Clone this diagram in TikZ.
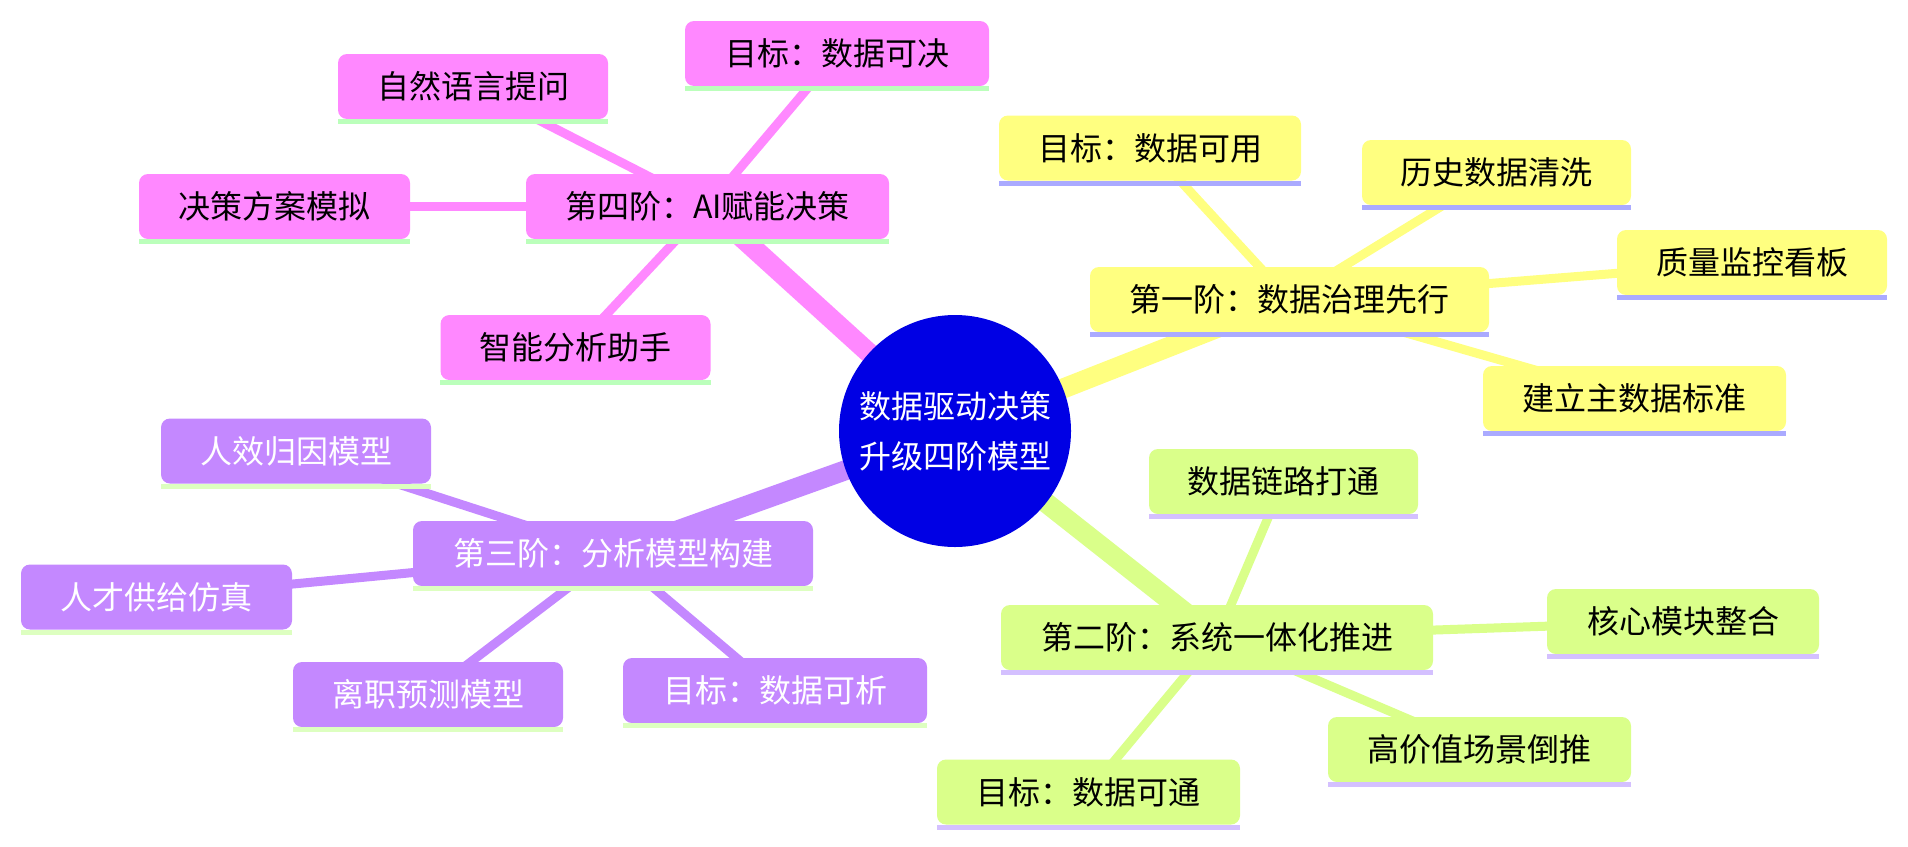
\documentclass[tikz,border=0pt]{standalone}
\usepackage{fontspec}
\setmainfont{Noto Sans CJK SC}
\usetikzlibrary{backgrounds}
\definecolor{pkfill}{RGB}{255,136,255}
\definecolor{pkline}{RGB}{187,255,187}
\definecolor{yefill}{RGB}{255,255,128}
\definecolor{yeline}{RGB}{170,170,255}
\definecolor{grfill}{RGB}{218,255,138}
\definecolor{grline}{RGB}{212,192,255}
\definecolor{pufill}{RGB}{196,136,255}
\definecolor{puline}{RGB}{221,255,192}
\definecolor{hub}{RGB}{0,0,228}
\begin{document}
\begin{tikzpicture}[x=1pt,y=-1pt,
  box/.style={rounded corners=9pt, minimum height=65pt, inner sep=0pt, align=center,
    font=\fontsize{32}{38}\selectfont},
  pk/.style={box, fill=pkfill, text=black},
  ye/.style={box, fill=yefill, text=black},
  gr/.style={box, fill=grfill, text=black},
  pu/.style={box, fill=pufill, text=white},
  trunk/.style={line width=20pt},
  twig/.style={line width=9pt}]
\useasboundingbox (0,0) rectangle (1908,846);
% hub
\node[circle, fill=hub, minimum size=232pt, inner sep=0pt, text=white, align=center,
  font=\fontsize{32}{50}\selectfont] (c) at (955,431) {数据驱动决策\\升级四阶模型};
% pink
\node[pk, minimum width=363pt] (p0) at (707.5,206.5) {第四阶：AI赋能决策};
\node[pk, minimum width=304pt] (p1) at (837,53.5) {目标：数据可决};
\node[pk, minimum width=270pt] (p2) at (473,86.5) {自然语言提问};
\node[pk, minimum width=271pt] (p3) at (274.5,206.5) {决策方案模拟};
\node[pk, minimum width=270pt] (p4) at (575.5,347.5) {智能分析助手};
% yellow
\node[ye, minimum width=399pt] (y0) at (1289.5,299.5) {第一阶：数据治理先行};
\node[ye, minimum width=302pt] (y1) at (1150,148) {目标：数据可用};
\node[ye, minimum width=269pt] (y2) at (1496.5,172.5) {历史数据清洗};
\node[ye, minimum width=270pt] (y3) at (1752,262.5) {质量监控看板};
\node[ye, minimum width=303pt] (y4) at (1634.5,398.5) {建立主数据标准};
% green
\node[gr, minimum width=432pt] (g0) at (1217,637.5) {第二阶：系统一体化推进};
\node[gr, minimum width=269pt] (g1) at (1283.5,481.5) {数据链路打通};
\node[gr, minimum width=272pt] (g2) at (1683,621.5) {核心模块整合};
\node[gr, minimum width=303pt] (g3) at (1479.5,749.5) {高价值场景倒推};
\node[gr, minimum width=303pt] (g4) at (1088.5,792) {目标：数据可通};
% purple
\node[pu, minimum width=400pt] (u0) at (613,553.5) {第三阶：分析模型构建};
\node[pu, minimum width=270pt] (u1) at (296,451) {人效归因模型};
\node[pu, minimum width=271pt] (u2) at (156.5,597) {人才供给仿真};
\node[pu, minimum width=270pt] (u3) at (428,694.5) {离职预测模型};
\node[pu, minimum width=304pt] (u4) at (775,690.5) {目标：数据可析};
% underlines
\foreach \n/\col in {p0/pkline,p1/pkline,p2/pkline,p3/pkline,p4/pkline,
  y0/yeline,y1/yeline,y2/yeline,y3/yeline,y4/yeline,
  g0/grline,g1/grline,g2/grline,g3/grline,g4/grline,
  u0/puline,u1/puline,u2/puline,u3/puline,u4/puline}
  \fill[\col] (\n.south west) rectangle ([yshift=-5pt]\n.south east);
% connectors
\begin{scope}[on background layer]
\fill[white] (0,0) rectangle (1908,846);
\draw[trunk, pkfill] (c.center) -- (p0.center);
\draw[trunk, yefill] (c.center) -- (y0.center);
\draw[trunk, grfill] (c.center) -- (g0.center);
\draw[trunk, pufill] (c.center) -- (u0.center);
\foreach \a in {p1,p2,p3,p4} \draw[twig, pkfill] (p0.center) -- (\a.center);
\foreach \a in {y1,y2,y3,y4} \draw[twig, yefill] (y0.center) -- (\a.center);
\foreach \a in {g1,g2,g3,g4} \draw[twig, grfill] (g0.center) -- (\a.center);
\foreach \a in {u1,u2,u3,u4} \draw[twig, pufill] (u0.center) -- (\a.center);
\end{scope}
\end{tikzpicture}
\end{document}
